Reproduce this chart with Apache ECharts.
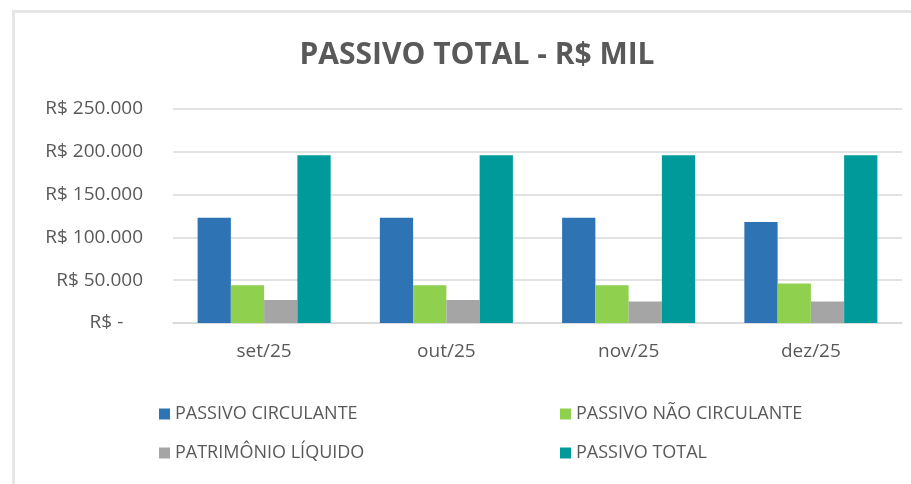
<!DOCTYPE html>
<html>
<head>
<meta charset="utf-8">
<script src="https://cdn.jsdelivr.net/npm/echarts@6/dist/echarts.min.js"></script>
<style>
  html, body { margin: 0; padding: 0; background: #ffffff; }
  #frame { position: absolute; left: 12px; top: 10px; width: 899px; height: 474px;
           border-left: 3px solid #e6e6e6; border-top: 3px solid #e6e6e6; box-sizing: border-box; }
  #chart { position: absolute; left: 0; top: 0; width: 911px; height: 484px; }
</style>
</head>
<body>
<div id="frame"></div>
<div id="chart"></div>
<script>
  // dados (R$ mil)
  var meses = ['set/25', 'out/25', 'nov/25', 'dez/25'];
  var passivoCirculante = [123000, 123000, 123000, 118000];
  var passivoNaoCirculante = [44000, 44000, 44000, 46000];
  var patrimonioLiquido = [27000, 27000, 25000, 25000];
  var passivoTotal = [196000, 196000, 196000, 196000];

  var fonte = '"Open Sans", "Liberation Sans", sans-serif';
  var cinzaTexto = '#595959';

  function formatoReal(v) {
    if (v === 0) return 'R$ -    ';
    return 'R$ ' + v.toString().replace(/\B(?=(\d{3})+(?!\d))/g, '.');
  }

  var chart = echarts.init(document.getElementById('chart'));
  var option = {
    backgroundColor: 'transparent',
    animation: false,
    title: {
      text: 'PASSIVO TOTAL - R$ MIL',
      left: 472,
      textAlign: 'center',
      top: 35,
      textStyle: { fontFamily: fonte, fontSize: 30, fontWeight: 'bold', color: cinzaTexto }
    },
    color: ['#2E74B5', '#8FD14F', '#A5A5A5', '#009A9A'],
    legend: [
      {
        left: 154, top: 400, orient: 'vertical', itemGap: 21,
        icon: 'rect', itemWidth: 11, itemHeight: 11,
        data: ['PASSIVO CIRCULANTE', 'PATRIMÔNIO LÍQUIDO'],
        textStyle: { fontFamily: fonte, fontSize: 18, color: cinzaTexto }
      },
      {
        left: 555, top: 400, orient: 'vertical', itemGap: 21,
        icon: 'rect', itemWidth: 11, itemHeight: 11,
        data: ['PASSIVO NÃO CIRCULANTE', 'PASSIVO TOTAL'],
        textStyle: { fontFamily: fonte, fontSize: 18, color: cinzaTexto }
      }
    ],
    grid: { left: 173, right: 9, top: 109, bottom: 161, containLabel: false },
    xAxis: {
      type: 'category',
      data: meses,
      axisLine: { lineStyle: { color: '#d9d9d9', width: 1.5 } },
      axisTick: { show: false },
      axisLabel: { fontFamily: fonte, fontSize: 19, color: cinzaTexto, margin: 19 }
    },
    yAxis: {
      type: 'value',
      min: 0, max: 250000, interval: 50000,
      axisLine: { show: false },
      axisTick: { show: false },
      splitLine: { lineStyle: { color: '#d9d9d9', width: 1.5 } },
      axisLabel: { fontFamily: fonte, fontSize: 19, color: cinzaTexto, margin: 30, formatter: formatoReal }
    },
    series: [
      { name: 'PASSIVO CIRCULANTE', type: 'bar', data: passivoCirculante, barGap: '0%', barCategoryGap: '27%' },
      { name: 'PASSIVO NÃO CIRCULANTE', type: 'bar', data: passivoNaoCirculante },
      { name: 'PATRIMÔNIO LÍQUIDO', type: 'bar', data: patrimonioLiquido },
      { name: 'PASSIVO TOTAL', type: 'bar', data: passivoTotal }
    ]
  };
  chart.setOption(option);
</script>
</body>
</html>
